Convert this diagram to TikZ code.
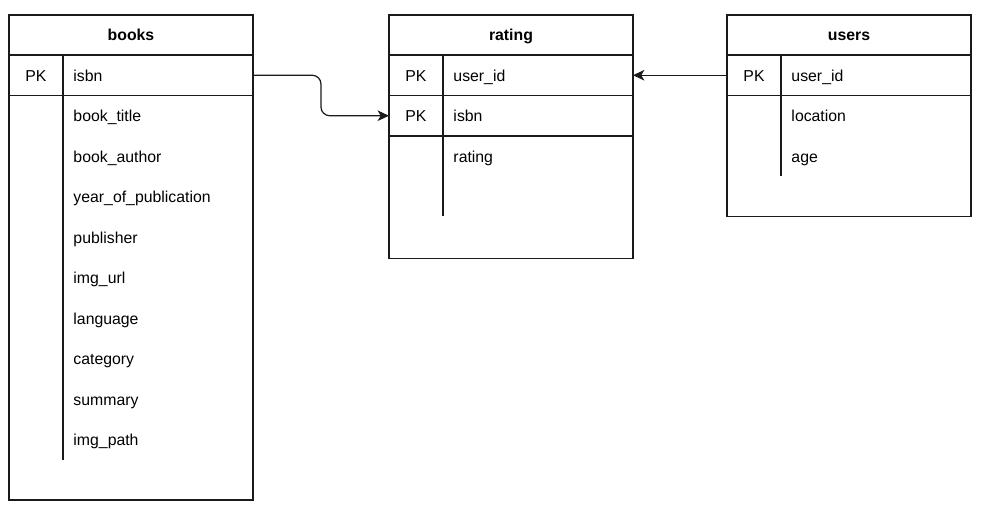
\documentclass[tikz,border=0pt]{standalone}
\usepackage{fontspec}
\setmainfont{Liberation Sans}
\usetikzlibrary{positioning, arrows.meta, calc}
\definecolor{erline}{HTML}{1A1A1A}

\begin{document}
\begin{tikzpicture}[
  x=0.02cm, y=-0.02cm,
  font=\fontsize{9}{11}\selectfont,
  every node/.style={inner sep=0pt, outer sep=0pt, text height=8pt, text depth=1.2pt},
  tblhead/.style={
    draw=erline,
    line width=0.7pt,
    minimum width=4.88cm,
    minimum height=0.8cm,
    anchor=north west,
    font=\fontsize{9}{11}\selectfont\bfseries
  },
  keycell/.style={
    draw=erline,
    line width=0.7pt,
    minimum width=1.08cm,
    minimum height=0.81cm,
    anchor=north west
  },
  keyfield/.style={
    draw=erline,
    line width=0.7pt,
    text width=3.38cm,
    inner xsep=0.21cm,
    minimum height=0.81cm,
    align=left,
    anchor=north west
  },
  colfield/.style={
    text width=3.38cm,
    inner xsep=0.21cm,
    minimum height=0.81cm,
    align=left
  },
  erlink/.style={-{Stealth[length=6.5pt, width=6pt, inset=1.8pt]}, line width=0.7pt, color=erline}
]
  \useasboundingbox (0,0) rectangle (984,514);

  % --- books table ---
  \node[tblhead] (bookshd) at (9,15) {books};
  \node[keycell] (bookspk) at (bookshd.south west) {PK};
  \node[keyfield] (books-0) at (bookspk.north east) {isbn};
  \foreach \fname [count=\i, remember=\i as \j (initially 0)] in
    {book\_title, book\_author, year\_of\_publication, publisher, img\_url,
     language, category, summary, img\_path}
    \node[colfield, below=0pt of books-\j] (books-\i) {\fname};
  \draw[erline, line width=0.7pt] (bookspk.south east) -- (bookspk.south east |- books-9.south);
  \draw[erline, line width=0.7pt] (bookshd.north west) rectangle ($(books-9.south east)+(0,40)$);

  % --- rating table ---
  \node[tblhead] (ratinghd) at (389,15) {rating};
  \node[keycell] (ratingpk1) at (ratinghd.south west) {PK};
  \node[keyfield] (ratinguid) at (ratingpk1.north east) {user\_id};
  \node[keycell] (ratingpk2) at (ratingpk1.south west) {PK};
  \node[keyfield] (rating-0) at (ratingpk2.north east) {isbn};
  \node[colfield, below=0pt of rating-0] (rating-1) {rating};
  \draw[erline, line width=0.7pt] (ratingpk2.south east) -- ($(ratingpk2.south east |- rating-1.south)+(0,40)$);
  \draw[erline, line width=0.7pt] (ratinghd.north west) rectangle ($(rating-1.south east)+(0,82)$);

  % --- users table ---
  \node[tblhead] (usershd) at (727,15) {users};
  \node[keycell] (userspk) at (usershd.south west) {PK};
  \node[keyfield] (users-0) at (userspk.north east) {user\_id};
  \node[colfield, below=0pt of users-0] (users-1) {location};
  \node[colfield, below=0pt of users-1] (users-2) {age};
  \draw[erline, line width=0.7pt] (userspk.south east) -- (userspk.south east |- users-2.south);
  \draw[erline, line width=0.7pt] (usershd.north west) rectangle ($(users-2.south east)+(0,40)$);

  % --- relations ---
  \draw[erlink, rounded corners=5pt] (books-0.east) -- ++(68,0) |- (ratingpk2.west);
  \draw[erlink] (userspk.west) -- (ratinguid.east);

\end{tikzpicture}
\end{document}
